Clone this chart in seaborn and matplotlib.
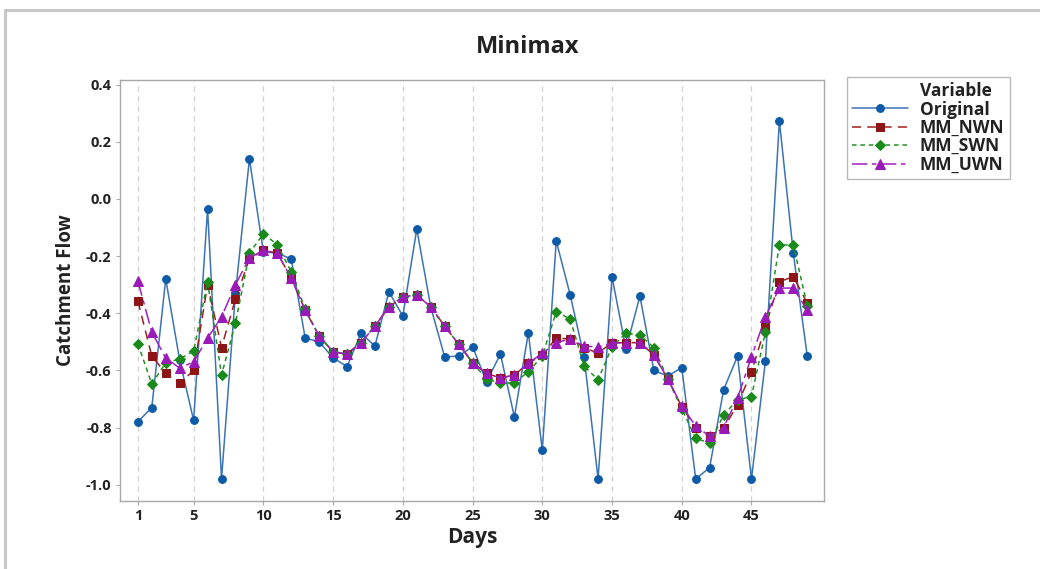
import numpy as np
import pandas as pd
import matplotlib
matplotlib.use("Agg")
import matplotlib.pyplot as plt
import seaborn as sns
from matplotlib.patches import Rectangle
from matplotlib.lines import Line2D

days = list(range(1, 50))

original = [-0.78, -0.73, -0.28, -0.565, -0.775, -0.035, -0.98, -0.33, 0.14, -0.185,
            -0.19, -0.21, -0.487, -0.50, -0.556, -0.587, -0.47, -0.515, -0.325, -0.41,
            -0.105, -0.378, -0.553, -0.55, -0.517, -0.64, -0.543, -0.763, -0.468, -0.88,
            -0.147, -0.336, -0.553, -0.98, -0.273, -0.525, -0.34, -0.60, -0.62, -0.59,
            -0.98, -0.94, -0.668, -0.55, -0.98, -0.567, 0.273, -0.19, -0.55]

mm_nwn = [-0.357, -0.55, -0.61, -0.645, -0.60, -0.30, -0.52, -0.35, -0.21, -0.18,
          -0.19, -0.277, -0.39, -0.48, -0.535, -0.543, -0.503, -0.445, -0.378, -0.343,
          -0.336, -0.378, -0.445, -0.508, -0.573, -0.61, -0.627, -0.616, -0.575, -0.546,
          -0.487, -0.49, -0.52, -0.54, -0.503, -0.503, -0.503, -0.546, -0.63, -0.727,
          -0.80, -0.83, -0.803, -0.72, -0.605, -0.447, -0.29, -0.272, -0.365]

mm_swn = [-0.507, -0.647, -0.574, -0.56, -0.532, -0.29, -0.616, -0.434, -0.19, -0.122,
          -0.16, -0.255, -0.385, -0.48, -0.535, -0.543, -0.503, -0.445, -0.378, -0.343,
          -0.336, -0.378, -0.445, -0.508, -0.573, -0.63, -0.645, -0.643, -0.605, -0.55,
          -0.395, -0.42, -0.585, -0.633, -0.517, -0.47, -0.476, -0.52, -0.63, -0.735,
          -0.837, -0.855, -0.756, -0.703, -0.692, -0.466, -0.161, -0.161, -0.374]

mm_uwn = [-0.287, -0.466, -0.557, -0.592, -0.57, -0.487, -0.413, -0.30, -0.207, -0.18,
          -0.19, -0.277, -0.39, -0.48, -0.535, -0.543, -0.503, -0.445, -0.378, -0.343,
          -0.336, -0.378, -0.445, -0.508, -0.573, -0.61, -0.627, -0.616, -0.575, -0.54,
          -0.503, -0.49, -0.515, -0.518, -0.505, -0.503, -0.503, -0.545, -0.63, -0.725,
          -0.795, -0.83, -0.80, -0.697, -0.553, -0.413, -0.312, -0.312, -0.39]

series_names = ["Original", "MM_NWN", "MM_SWN", "MM_UWN"]
x_ticks = [1, 5, 10, 15, 20, 25, 30, 35, 40, 45]
y_ticks = [0.4, 0.2, 0.0, -0.2, -0.4, -0.6, -0.8, -1.0]

sns.set_theme(style="white")
plt.rcParams['font.family'] = ['Open Sans', 'DejaVu Sans']

fig = plt.figure(figsize=(10.4, 5.69), dpi=100)
ax = fig.add_axes([120/1040, 1-501/569, (824-120)/1040, (501-80)/569])

styles = {
    "Original": dict(color="#3b73b3", marker="o", ls="-", mfc="#0d5aa7", mec="#0d5aa7", ms=5.6),
    "MM_NWN": dict(color="#a02020", marker="s", ls=(0, (6, 4)), mfc="#8e1515", mec="#8e1515", ms=5.6),
    "MM_SWN": dict(color="#239023", marker="D", ls=(0, (3, 2.5)), mfc="#1a8a1a", mec="#1a8a1a", ms=5.2),
    "MM_UWN": dict(color="#a020c0", marker="^", ls=(0, (10, 3, 3, 3)), mfc="#9a1ab8", mec="#9a1ab8", ms=6.6),
}
data = {"Original": original, "MM_NWN": mm_nwn, "MM_SWN": mm_swn, "MM_UWN": mm_uwn}

for i, name in enumerate(series_names):
    st = styles[name]
    sns.lineplot(x=days, y=data[name], ax=ax, color=st["color"], marker=st["marker"],
                 linestyle=st["ls"], markerfacecolor=st["mfc"], markeredgecolor=st["mec"],
                 markersize=st["ms"], linewidth=1.1, label=name, legend=False, zorder=3 + i)

ax.set_xlim(-0.28, 50.2)
ax.set_ylim(-1.057, 0.416)
ax.set_xticks(x_ticks)
ax.set_yticks(y_ticks)
ax.set_yticklabels([f"{v:.1f}" for v in y_ticks])
for xt in x_ticks:
    ax.axvline(xt, color="#cfcfcf", lw=0.9, ls=(0, (4, 4)), zorder=1)

for sp in ax.spines.values():
    sp.set_color("#a8a8a8")
    sp.set_linewidth(1.0)
ax.tick_params(axis="both", which="major", direction="out", length=3, width=0.8,
               color="#a8a8a8", labelsize=10.5, pad=3, left=True, bottom=True)
for lab in ax.get_xticklabels() + ax.get_yticklabels():
    lab.set_fontweight("bold")
    lab.set_color("#222222")

ax.set_xlabel("Days", fontsize=15, fontweight="bold", color="#222222", labelpad=3)
ax.set_ylabel("Catchment Flow", fontsize=13.5, fontweight="bold", color="#222222", labelpad=7)
fig.text(528 / 1040, 1 - 47/569, "Minimax", ha="center", va="center",
         fontsize=17, fontweight="bold", color="#222222")

handles, labels = ax.get_legend_handles_labels()
header = Line2D([], [], linestyle="none", marker=None)
leg = fig.legend([header] + handles, ["Variable"] + labels, loc="upper left",
                 bbox_to_anchor=(847/1040, 1 - 77/569), fancybox=False, frameon=True,
                 fontsize=12.5, handlelength=3.2, borderpad=0.3,
                 labelspacing=0.02, handletextpad=0.7, borderaxespad=0)
leg.get_frame().set_edgecolor("#a8a8a8")
leg.get_frame().set_linewidth(1.0)
for t in leg.get_texts():
    t.set_fontweight("bold")
    t.set_color("#222222")

border = Rectangle((5/1040, -0.05), 1.1, 1 - 10/569 + 0.05, transform=fig.transFigure,
                   fill=False, edgecolor="#c8c8c8", linewidth=2.2, clip_on=False)
fig.patches.append(border)

fig.savefig("out.png", dpi=100)
